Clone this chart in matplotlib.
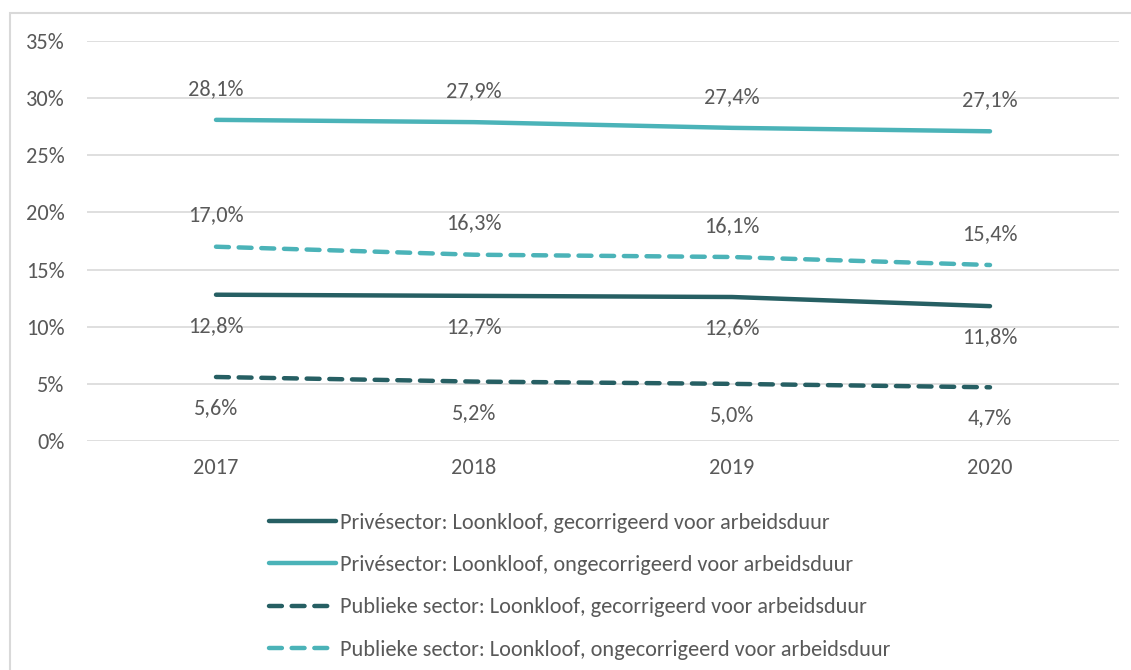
import matplotlib
matplotlib.use("Agg")
import matplotlib.pyplot as plt
from matplotlib.patches import Rectangle
from matplotlib.ticker import FuncFormatter
from matplotlib import font_manager

years = ["2017", "2018", "2019", "2020"]
priv_gecorr = [12.8, 12.7, 12.6, 11.8]
priv_ongecorr = [28.1, 27.9, 27.4, 27.1]
publ_gecorr = [5.6, 5.2, 5.0, 4.7]
publ_ongecorr = [17.0, 16.3, 16.1, 15.4]
labels = [
    "Privésector: Loonkloof, gecorrigeerd voor arbeidsduur",
    "Privésector: Loonkloof, ongecorrigeerd voor arbeidsduur",
    "Publieke sector: Loonkloof, gecorrigeerd voor arbeidsduur",
    "Publieke sector: Loonkloof, ongecorrigeerd voor arbeidsduur",
]
yticks = [0, 5, 10, 15, 20, 25, 30, 35]

avail = set(f.name for f in font_manager.fontManager.ttflist)
fams = [f for f in ['Carlito', 'Lato'] if f in avail] + ['DejaVu Sans']
plt.rcParams['font.family'] = fams
W, H = 1131, 670
fig = plt.figure(figsize=(W / 100, H / 100), dpi=100)
fig.patches.append(Rectangle((10 / W, -0.1), 1.2, 1.1 - 13 / H, transform=fig.transFigure,
                             fill=False, edgecolor='#d9d9d9', linewidth=1.5))
ax = fig.add_axes([87 / W, (H - 441) / H, (1119 - 87) / W, 400 / H])

dark = '#265f63'
light = '#4bb3b8'
tc = '#595959'
fs = 16
lfs = 16
lw = 3.2
x = [i + 0.5 for i in range(len(years))]

series = [
    (priv_gecorr, dark, '-', -1),
    (priv_ongecorr, light, '-', 1),
    (publ_gecorr, dark, '--', -1),
    (publ_ongecorr, light, '--', 1),
]
for (vals, col, ls, side), lab in zip(series, labels):
    kw = dict(color=col, linewidth=lw, solid_capstyle='round', dash_capstyle='round', label=lab)
    if ls == '--':
        ax.plot(x, vals, dashes=(2.9, 2.2), **kw)
    else:
        ax.plot(x, vals, **kw)
    for xi, v in zip(x, vals):
        ax.annotate(f"{v:.1f}%".replace('.', ','), (xi, v), xytext=(0, 22.5 * side),
                    textcoords='offset points', ha='center', va='center',
                    fontsize=fs, color=tc)

ax.set_xlim(0, 4)
ax.set_ylim(0, 35)
ax.set_yticks(yticks)
ax.yaxis.set_major_formatter(FuncFormatter(lambda v, p: f"{int(v)}%"))
ax.set_xticks(x)
ax.set_xticklabels(years)
ax.tick_params(axis='both', length=0, labelsize=fs, labelcolor=tc)
ax.tick_params(axis='y', pad=16)
ax.tick_params(axis='x', pad=12)
ax.grid(axis='y', color='#d9d9d9', linewidth=1.2)
ax.set_axisbelow(True)
for s in ax.spines.values():
    s.set_visible(False)

leg = fig.legend(loc='upper left', bbox_to_anchor=(249 / W, (H - 493) / H),
                 frameon=False, fontsize=lfs, labelcolor=tc, handlelength=3.0,
                 handletextpad=0.2, labelspacing=1.0)

fig.savefig("out.png", dpi=100)
